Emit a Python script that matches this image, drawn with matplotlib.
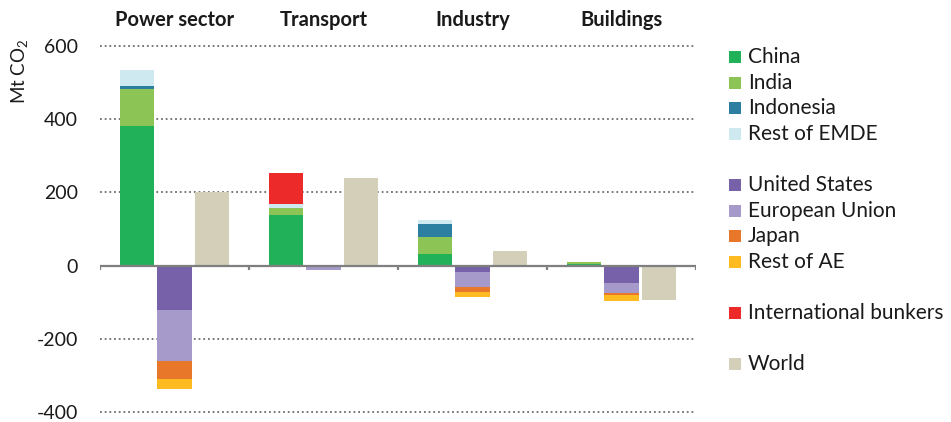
import matplotlib
matplotlib.use("Agg")
import matplotlib.pyplot as plt
import matplotlib.transforms as mtransforms
from matplotlib.patches import Rectangle
import numpy as np

plt.rcParams['font.family'] = ['Lato', 'DejaVu Sans']
plt.rcParams['mathtext.fontset'] = 'custom'
plt.rcParams['mathtext.rm'] = 'Lato'

categories = ['Power sector', 'Transport', 'Industry', 'Buildings']

# Emerging market and developing economies (stacked up)
china = [382, 139, 33, 3]
india = [101, 19, 45, 6]
indonesia = [9, 0, 37, 0]
rest_emde = [43, 9, 9, 0]
bunkers = [0, 87, 0, 0]
# Advanced economies (stacked down)
united_states = [-122, 0, -18, -47]
european_union = [-140, -12, -40, -29]
japan = [-47, 0, -15, -5]
rest_ae = [-27, 0, -13, -16]
# World
world = [200, 240, 41, -94]

yticks = [-400, -200, 0, 200, 400, 600]

colors = {
    'China': '#21b159', 'India': '#8dc456', 'Indonesia': '#2c7fa0',
    'Rest of EMDE': '#cfe9f1', 'United States': '#7761a8',
    'European Union': '#a59ac9', 'Japan': '#e8772a', 'Rest of AE': '#fdbb21',
    'International bunkers': '#ec2a2a', 'World': '#d3cfb8',
}

W, H = 951, 422
fig = plt.figure(figsize=(W / 100, H / 100), dpi=100)
ymin, ymax = -420, 620
ax = fig.add_axes([100 / W, 1 - 419.3 / H, 596 / W, (419.3 - 38.7) / H])
ax.set_xlim(0, 4)
ax.set_ylim(ymin, ymax)

x = np.arange(len(categories))
bw = 0.23
pos_emde = x + 0.25
pos_ae = x + 0.5
pos_world = x + 0.75

# EMDE stack
bottom = np.zeros(len(categories))
for name, vals in [('China', china), ('India', india), ('Indonesia', indonesia),
                   ('Rest of EMDE', rest_emde), ('International bunkers', bunkers)]:
    v = np.array(vals, dtype=float)
    ax.bar(pos_emde, v, bw, bottom=bottom, color=colors[name], linewidth=0, zorder=3)
    bottom += v

# AE stack
bottom = np.zeros(len(categories))
for name, vals in [('United States', united_states), ('European Union', european_union),
                   ('Japan', japan), ('Rest of AE', rest_ae)]:
    v = np.array(vals, dtype=float)
    ax.bar(pos_ae, v, bw, bottom=bottom, color=colors[name], linewidth=0, zorder=3)
    bottom += v

ax.bar(pos_world, world, bw, color=colors['World'], linewidth=0, zorder=3)

# grid lines
for yv in yticks:
    if yv == 0:
        continue
    ax.axhline(yv, color='#6d6d6d', linestyle=(0, (1, 1.6)), linewidth=1.3, zorder=1)
ax.axhline(0, color='#7f7f7f', linewidth=1.6, zorder=4)

for s in ax.spines.values():
    s.set_visible(False)

ax.set_yticks(yticks)
ax.set_yticklabels([str(v) for v in yticks], fontsize=14, color='#1a1a1a')
ax.tick_params(axis='y', length=0, pad=16)
ax.set_xticks([])
# separator ticks below the zero line
for xv in [0, 1, 2, 3, 4]:
    ax.plot([xv, xv], [0, -13], color='#7f7f7f', linewidth=1.6, zorder=4,
            solid_capstyle='butt')

# category labels
trans = mtransforms.blended_transform_factory(ax.transData, fig.transFigure)
for xi, c in zip(x, categories):
    ax.text(xi + 0.5, 1 - 20 / H, c, transform=trans, ha='center',
            va='center', fontsize=14.5, fontweight='bold', color='#1a1a1a',
            clip_on=False)

fig.text(20 / W, 1 - 71 / H, 'Mt CO$_2$', rotation=90, ha='center', va='center',
         fontsize=13.5, color='#1a1a1a')

# legend
legend_rows = [('China', 0), ('India', 1), ('Indonesia', 2), ('Rest of EMDE', 3),
               ('United States', 5), ('European Union', 6), ('Japan', 7),
               ('Rest of AE', 8), ('International bunkers', 10), ('World', 12)]
step = 25.6
y0 = 57
for name, r in legend_rows:
    yc = y0 + r * step
    fig.patches.append(Rectangle((729 / W, 1 - (yc + 6) / H), 12 / W, 12 / H,
                                 transform=fig.transFigure, color=colors[name],
                                 linewidth=0))
    fig.text(748 / W, 1 - yc / H, name, ha='left', va='center', fontsize=15,
             color='#1a1a1a')

fig.savefig('out.png', dpi=100)
